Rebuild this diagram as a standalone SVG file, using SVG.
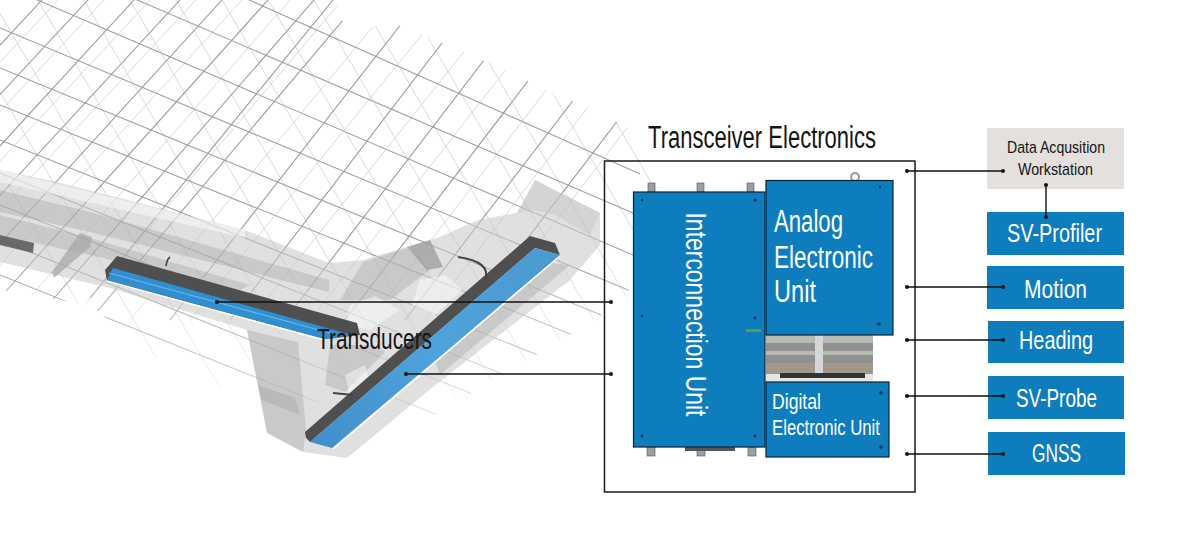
<svg xmlns="http://www.w3.org/2000/svg" width="1200" height="554" viewBox="0 0 1200 554">
<style>
.t{font-family:"Liberation Sans Narrow","Liberation Sans",Arial,sans-serif}
.w{fill:#fff}.k{fill:#151515}
.box{fill:#0e7dbd}
.unit{fill:#0e7dbd;stroke:#0f2433;stroke-width:1.2}
.c{stroke:#111;stroke-width:1.4;fill:none}
.d{fill:#111}
.ga{stroke:#a0a0a0;stroke-width:1.1;fill:none}
.gb{stroke:#9a9a9a;stroke-width:1.1;fill:none}
.gc{stroke:#d0d0d0;stroke-width:.8;fill:none}
.s{fill:#123a55}
.tab{fill:#9b9fa2;stroke:#555;stroke-width:.6}
.m{fill:#8e8e8e;fill-opacity:.28}
.l{fill:#fff;fill-opacity:.45}
</style>
<defs>
<clipPath id="gridClip"><polygon points="0,0 335,0 345,28 398,25 455,48 505,70 553,93 600,113 640,135 682,180 640,260 625,300 570,335 423,422 280,395 190,385 90,305 0,290"/></clipPath>
<linearGradient id="fade" gradientUnits="userSpaceOnUse" x1="0" y1="250" x2="0" y2="425"><stop offset="0" stop-color="#fff" stop-opacity="0"/><stop offset="1" stop-color="#fff" stop-opacity=".75"/></linearGradient>
<linearGradient id="blue2" gradientUnits="userSpaceOnUse" x1="540" y1="250" x2="320" y2="445"><stop offset="0" stop-color="#4b9ad2"/><stop offset=".5" stop-color="#4fa3dc"/><stop offset="1" stop-color="#3f8fcb"/></linearGradient>
</defs>
<rect width="1200" height="554" fill="#fff"/>
<g id="structure">
<g clip-path="url(#gridClip)">
<path class="gc" d="M-100 0L135 400M-54 0L181 400M-8 0L227 400M38 0L273 400M84 0L319 400M130 0L365 400M176 0L411 400M222 0L457 400M268 0L503 400M314 0L549 400M360 0L595 400M406 0L641 400M452 0L687 400M498 0L733 400M544 0L779 400M590 0L825 400"/>
<path class="gc" d="M58 0L-240 320M104 0L-194 320M150 0L-148 320M196 0L-102 320M242 0L-50 320M290 0L10 320M342 0L72 320M395 0L130 320M450 0L190 320M505 0L250 320M560 0L310 320M615 0L370 320M670 0L425 320M725 0L480 320"/>
<path class="ga" d="M0 -111L640 174M0 -59L640 216M0 -16L640 258M0 28L640 295M0 68L640 331M0 105L640 362M0 140L640 396M0 173L640 429M0 205L640 461M0 240L640 496M0 275L640 531"/>
<path class="gb" d="M42 0L-130 185M88 0L-210 320M134 0L-160 320M180 0L-115 320M222 0L-70 320M268 0L-20 320M314 0L35 320M360 0L90 320M333 0L90 298M420 0L170 320M475 0L230 320M530 0L285 320M590 0L345 320M650 0L405 320M710 0L465 320"/>
</g>
<rect x="0" y="250" width="690" height="180" fill="url(#fade)"/>
<polygon points="0,170 57,182 245,230 329,263 363,260 440,237 478,220 517,213 535,180 600,213 600,245 570,280 433,387 347,458 303,452 267,433 247,330 110,288 0,262" fill="#c6c6c6" fill-opacity=".55"/>
<polygon points="0,190 90,212 329,280 329,292 90,232 0,212" class="m"/>
<polygon points="0,215 90,238 250,285 240,290 90,255 0,235" class="m"/>
<polygon points="247,330 298,342 306,430 303,452 267,433" class="m"/>
<polygon points="258,385 295,398 300,415 262,400" class="m"/>
<polygon points="407,247 430,240 443,267 427,270" fill="#8a8a8a" fill-opacity=".6"/>
<polygon points="363,262 407,248 430,270 390,300 340,300" class="m"/>
<polygon points="350,305 375,296 400,310 370,330 345,325" class="l"/>
<polygon points="420,280 445,275 462,290 435,315 412,305" class="l"/>
<polygon points="330,345 372,345 385,352 345,392 325,385" class="m"/>
<polygon points="345,375 365,365 370,385 350,395" class="l"/>
<polygon points="430,340 480,305 540,262 570,265 440,375" class="m"/>
<polygon points="0,235 34,243 33,253 0,245" fill="#555" fill-opacity=".85"/>
<polygon points="80,233 92,237 90,247 54,278 52,272" fill="#a5a5a5" fill-opacity=".7"/>
<polygon points="535,180 600,213 590,235 555,215 535,210 517,213" fill="#bdbdbd" fill-opacity=".35"/>
<polygon points="0,170 245,230 245,238 0,182" class="l"/>
</g>
<g id="transducer-1">
<polygon points="105,270 117,256 357,323 360,335 326,339 107,281" fill="#4f4f4f"/>
<polygon points="107,280 113,268 352,335 324,339" fill="#2f8fd0"/>
<path d="M109 273L330 333" stroke="#6bb4e4" stroke-width="1.2" fill="none"/>
<path d="M107 281L324 340" stroke="#fff" stroke-width="1.4" fill="none"/>
<path d="M170 257C166 260 167 262 166 266" stroke="#444" stroke-width="1.6" fill="none"/>
</g>
<g id="transducer-2">
<polygon points="305,432 530,236 555,243 560,255 535,248 310,442 306,438" fill="#4f4f4f"/>
<polygon points="535,248 560,255 332,448 310,442" fill="url(#blue2)"/>
<path d="M560 256L333 449" stroke="#fff" stroke-width="1.4" fill="none"/>
<path d="M458 257C480 260 490 268 485 280" stroke="#444" stroke-width="2" fill="none"/>
<path d="M333 393L353 395" stroke="#444" stroke-width="2" fill="none"/>
</g>
<text class="t k" x="317" y="349" font-size="29" textLength="115" lengthAdjust="spacingAndGlyphs">Transducers</text>
<g id="transceiver">
<rect x="604.5" y="161" width="310.5" height="331" fill="none" stroke="#1a1a1a" stroke-width="1.5"/>
<text class="t k" x="648" y="148" font-size="31" textLength="228" lengthAdjust="spacingAndGlyphs">Transceiver Electronics</text>
</g>
<g id="hardware">
<rect x="648" y="183" width="7" height="9" class="tab"/><rect x="697" y="183" width="7" height="9" class="tab"/><rect x="747" y="183" width="7" height="9" class="tab"/>
<rect x="647" y="447" width="8" height="9" class="tab"/><rect x="697" y="447" width="8" height="9" class="tab"/><rect x="748" y="447" width="8" height="9" class="tab"/>
<rect x="685" y="447" width="50" height="4" fill="#555"/>
<circle cx="855" cy="177" r="4" fill="none" stroke="#999" stroke-width="2"/>
<rect x="766" y="335" width="107" height="47" fill="#b9b9b4"/>
<rect x="766" y="343" width="107" height="8" fill="#8f9090"/>
<rect x="766" y="355" width="107" height="8" fill="#8f9090"/>
<rect x="766" y="363" width="107" height="11" fill="#a3978b"/>
<rect x="815" y="335" width="8" height="40" fill="#d6d6d6"/>
<rect x="766" y="374" width="107" height="8" fill="#e5e5e5"/>
<rect x="780" y="373" width="85" height="5" fill="#333"/>
</g>
<g id="interconnection-unit">
<rect x="633.5" y="192" width="131.5" height="255" class="unit"/>
<text class="t w" transform="translate(686 212.5) rotate(90)" font-size="30" textLength="204" lengthAdjust="spacingAndGlyphs">Interconnection Unit</text>
<rect x="746" y="329" width="15" height="3" fill="#5a9a4a"/>
<circle cx="642" cy="200" r="1.2" class="s"/><circle cx="755" cy="200" r="1.5" class="s"/><circle cx="642" cy="316" r="1.2" class="s"/><circle cx="755" cy="318" r="1.5" class="s"/><circle cx="642" cy="436" r="1.5" class="s"/><circle cx="755" cy="436" r="1.5" class="s"/>
</g>
<g id="analog-electronic-unit">
<rect x="766" y="180.500" width="127" height="154.500" class="unit"/>
<text class="t w" x="774" y="232" font-size="31" textLength="69" lengthAdjust="spacingAndGlyphs">Analog</text>
<text class="t w" x="774" y="267.500" font-size="31" textLength="99" lengthAdjust="spacingAndGlyphs">Electronic</text>
<text class="t w" x="774" y="302" font-size="31" textLength="42" lengthAdjust="spacingAndGlyphs">Unit</text>
<circle cx="880" cy="187" r="1.3" class="s"/><circle cx="879" cy="324" r="1.8" class="s"/>
</g>
<g id="digital-electronic-unit">
<rect x="766" y="382" width="123" height="75" class="unit"/>
<text class="t w" x="772" y="409" font-size="22" textLength="49" lengthAdjust="spacingAndGlyphs">Digital</text>
<text class="t w" x="772" y="435" font-size="22" textLength="108" lengthAdjust="spacingAndGlyphs">Electronic Unit</text>
<circle cx="881" cy="393" r="1.8" class="s"/><circle cx="881" cy="447" r="1.8" class="s"/>
</g>
<g id="data-acquisition">
<rect x="987" y="128" width="137" height="61" fill="#e3e0dd"/>
<text class="t k" x="1007" y="153" font-size="17" textLength="98" lengthAdjust="spacingAndGlyphs">Data Acqusition</text>
<text class="t k" x="1018" y="175" font-size="17" textLength="75" lengthAdjust="spacingAndGlyphs">Workstation</text>
</g>
<g id="sv-profiler"><rect x="987" y="212" width="137" height="43" class="box"/><text class="t w" x="1007" y="242" font-size="26" textLength="95" lengthAdjust="spacingAndGlyphs">SV-Profiler</text></g>
<g id="motion"><rect x="987" y="266" width="137" height="43" class="box"/><text class="t w" x="1024" y="298" font-size="26" textLength="63" lengthAdjust="spacingAndGlyphs">Motion</text></g>
<g id="heading"><rect x="988" y="321" width="136" height="42" class="box"/><text class="t w" x="1019" y="349" font-size="26" textLength="74" lengthAdjust="spacingAndGlyphs">Heading</text></g>
<g id="sv-probe"><rect x="988" y="376" width="136" height="43" class="box"/><text class="t w" x="1016" y="407" font-size="26" textLength="81" lengthAdjust="spacingAndGlyphs">SV-Probe</text></g>
<g id="gnss"><rect x="988" y="432" width="137" height="43" class="box"/><text class="t w" x="1032" y="462" font-size="26" textLength="49" lengthAdjust="spacingAndGlyphs">GNSS</text></g>
<g id="connectors">
<path class="c" d="M217 302H611M406 374H611M907 171H1003M907 287H1003M907 340H1003M907 396H1003M907 454H1003M1046 185V217"/>
<g class="d">
<circle cx="217" cy="302" r="2"/><circle cx="611" cy="302" r="2"/><circle cx="406" cy="374" r="2"/><circle cx="611" cy="374" r="2"/>
<circle cx="907" cy="171" r="2"/><circle cx="1003" cy="171" r="2"/><circle cx="907" cy="287" r="2"/><circle cx="1003" cy="287" r="2"/>
<circle cx="907" cy="340" r="2"/><circle cx="1003" cy="340" r="2"/><circle cx="907" cy="396" r="2"/><circle cx="1003" cy="396" r="2"/>
<circle cx="907" cy="454" r="2"/><circle cx="1003" cy="454" r="2"/><circle cx="1046" cy="185" r="2"/><circle cx="1046" cy="217" r="2"/>
</g>
</g>
</svg>
